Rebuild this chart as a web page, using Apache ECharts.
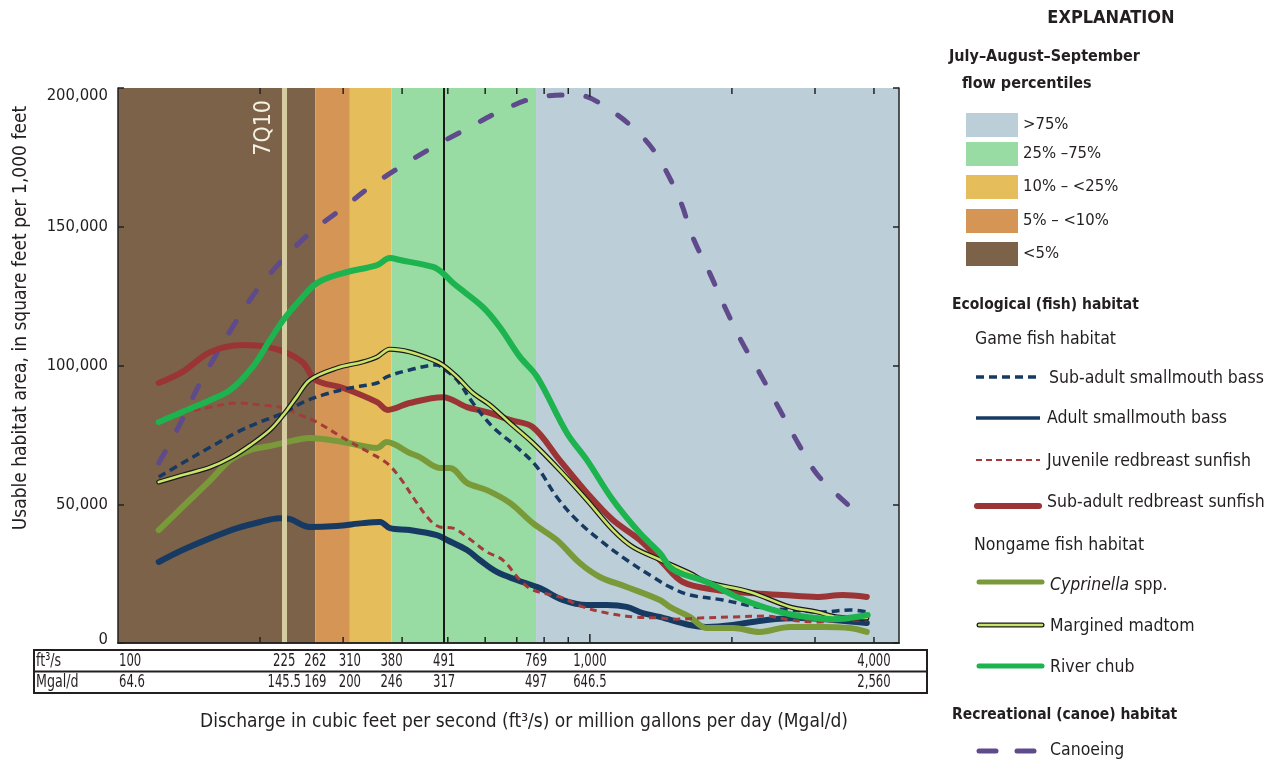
<!DOCTYPE html>
<html>
<head>
<meta charset="utf-8">
<script src="https://cdn.jsdelivr.net/npm/echarts@6/dist/echarts.min.js"></script>
<style>
  html, body { margin: 0; padding: 0; background: #ffffff; }
  #chart { width: 1279px; height: 763px; }
</style>
</head>
<body>
<div id="chart"></div>
<script>
// ---- Habitat curves: discharge (ft3/s) vs usable habitat area (ft2 per 1,000 ft) ----
const canoeQ   = [122, 134, 151, 159, 175, 197, 220, 255, 300, 342, 396, 465, 557, 654, 783, 938, 1119, 1294, 1407, 1552, 1652, 1795, 1932, 2099, 2259, 2527, 2760, 3041, 3590];
const canoeA   = [64900, 77500, 95500, 102000, 113900, 127200, 136900, 147700, 156800, 164300, 171500, 178700, 185900, 192100, 196800, 197500, 191400, 182300, 174100, 159600, 146300, 133300, 121100, 108500, 99100, 84000, 72100, 60500, 48600];

const chubQ    = [122, 140, 157, 173, 193, 210, 224, 243, 264, 300, 354, 377, 396, 465, 488, 513, 593, 644, 711, 773, 894, 986, 1119, 1276, 1407, 1477, 1552, 1770, 2048, 2371, 2786, 3273, 3880];
const chubA    = [79600, 84000, 87600, 91200, 99500, 109200, 116400, 123600, 129700, 133300, 136200, 138700, 138000, 135500, 133300, 129700, 121100, 113900, 103100, 95900, 75700, 65900, 51500, 39600, 32400, 27400, 25200, 22000, 16600, 12600, 9700, 8600, 10100];

const subRedQ  = [122, 137, 157, 184, 207, 228, 247, 262, 300, 354, 373, 415, 488, 549, 605, 677, 757, 863, 986, 1119, 1276, 1428, 1574, 1858, 2183, 2564, 3027, 3435, 3863];
const subRedA  = [93700, 97700, 104900, 107400, 106700, 104500, 100900, 94800, 91900, 86800, 84000, 86500, 88600, 85000, 83200, 80400, 77800, 65900, 54100, 44300, 37100, 28800, 22000, 19100, 18000, 17300, 16600, 17300, 16600];

const madtomQ  = [122, 137, 157, 173, 191, 210, 224, 239, 255, 291, 330, 354, 377, 415, 465, 488, 523, 565, 614, 677, 757, 863, 986, 1119, 1233, 1407, 1628, 1770, 2183, 2653, 3027, 3336, 3863];
const madtomA  = [58000, 60500, 63400, 66700, 71400, 76800, 82200, 88600, 94800, 99100, 101300, 103100, 105900, 104900, 102000, 100200, 95900, 90100, 85800, 79300, 72100, 62300, 51500, 40700, 34600, 30000, 25200, 22000, 18400, 13000, 11200, 9400, 9000];

const subBassQ = [122, 137, 157, 179, 200, 224, 247, 272, 310, 354, 371, 415, 474, 488, 523, 565, 623, 700, 773, 851, 938, 1050, 1197, 1360, 1477, 1628, 1913, 2259, 2653, 3117, 3556, 3863];
const subBassA = [59800, 64900, 70600, 76000, 79600, 82900, 86800, 89400, 91900, 93700, 95900, 98400, 100200, 99100, 94800, 86500, 77800, 70600, 63400, 52600, 44300, 37100, 29900, 23800, 20200, 17300, 15500, 13000, 11900, 11200, 11900, 11200];

const adultBassQ = [122, 137, 157, 179, 200, 220, 231, 255, 291, 330, 359, 377, 415, 474, 498, 549, 584, 635, 700, 783, 876, 986, 1087, 1197, 1294, 1407, 1628, 1770, 2010, 2371, 2786, 3273, 3863];
const adultBassA = [29200, 33500, 37800, 41400, 43600, 45000, 44700, 41800, 42200, 43200, 43600, 41400, 40700, 38900, 37100, 33500, 29900, 25600, 22700, 19800, 15500, 13700, 13700, 13000, 10800, 9400, 6500, 5800, 6500, 8300, 9000, 8300, 7200];

const juvRedQ  = [122, 137, 157, 179, 200, 224, 243, 264, 300, 342, 371, 396, 430, 458, 481, 513, 549, 605, 654, 711, 757, 863, 967, 1087, 1233, 1407, 1528, 1710, 2010, 2371, 2653, 3027, 3556, 3863];
const juvRedA  = [80400, 82900, 85000, 86500, 85800, 84700, 82200, 79600, 73900, 68500, 64900, 59500, 50500, 44300, 41800, 41400, 38200, 32800, 29900, 22700, 19100, 16600, 13000, 10800, 9400, 9000, 8600, 9000, 9400, 9700, 8300, 7600, 8300, 8300];

const cyprQ    = [122, 137, 157, 173, 191, 210, 224, 255, 300, 354, 371, 415, 436, 481, 505, 549, 605, 677, 757, 851, 952, 1050, 1197, 1407, 1477, 1628, 1770, 2010, 2291, 2653, 3117, 3556, 3863];
const cyprA    = [40700, 49000, 58700, 65900, 69600, 71000, 72100, 73900, 72400, 70300, 72400, 68500, 67000, 63100, 63100, 57700, 55100, 50500, 43200, 37100, 28800, 23800, 20200, 15500, 13000, 9400, 5400, 5400, 4000, 5800, 5800, 5400, 4000];

// ---- Flow-percentile bands (ft3/s) and reference flows ----
const bandEdges   = [100, 262, 310, 380, 769, 4520];
const sevenQ10    = 225;
const medianFlow  = 491;

// ---- Discharge table below the plot ----
const flowTicks   = [100, 225, 262, 310, 380, 491, 769, 1000, 4000];
const mgalLabels  = ['64.6', '145.5', '169', '200', '246', '317', '497', '646.5', '2,560'];
const minorTicks  = [200, 300, 400, 500, 600, 700, 800, 900, 1000, 2000, 3000, 4000];

const yTicksMax = 200000;

const FONT = '"Liberation Sans Narrow", "DejaVu Sans Condensed", "Roboto", sans-serif';
const INK = '#231f20';

const pairs = (q, a) => q.map((v, i) => [v, a[i]]);
const fmt = v => v.toLocaleString('en-US');

const bandColors = ['#7b6248', '#d59555', '#e5bd5b', '#98dba3', '#bccfd8'];

function curve(name, q, a, style, z) {
  return {
    name, type: 'line', data: pairs(q, a), smooth: 0.35, symbol: 'none',
    lineStyle: style, z: z || 3, silent: true, clip: true
  };
}

const chart = echarts.init(document.getElementById('chart'), null, { renderer: 'canvas' });

const option = {
  animation: false,
  backgroundColor: '#ffffff',
  textStyle: { fontFamily: FONT },
  grid: { left: 118, right: 380, top: 88, bottom: 120, containLabel: false },
  xAxis: [
    { type: 'log', logBase: 10, min: 100, max: 4520, position: 'bottom', z: 10,
      axisLine: { show: true, lineStyle: { color: '#222', width: 1.5 } },
      axisTick: { show: false }, axisLabel: { show: false }, splitLine: { show: false }, minorTick: { show: false } },
    { type: 'log', logBase: 10, min: 100, max: 4520, position: 'top', z: 10,
      axisLine: { show: true, lineStyle: { color: '#222', width: 1.5 } },
      axisTick: { show: false }, axisLabel: { show: false }, splitLine: { show: false } }
  ],
  yAxis: [
    { type: 'value', min: 0, max: yTicksMax, interval: 50000, position: 'left', z: 10,
      axisLine: { show: true, lineStyle: { color: '#222', width: 1.5 } },
      axisTick: { show: true, inside: true, length: 6, lineStyle: { color: '#222', width: 1.5 } },
      splitLine: { show: false },
      axisLabel: {
        margin: 10, color: INK, fontSize: 16.5, fontFamily: FONT,
        formatter: v => v === yTicksMax ? '{top|' + fmt(v) + '}' : (v === 0 ? '{bot|0}' : fmt(v)),
        rich: {
          top: { fontSize: 16.5, fontFamily: FONT, color: INK, padding: [16, 0, 0, 0] },
          bot: { fontSize: 16.5, fontFamily: FONT, color: INK, padding: [0, 0, 6, 0] }
        }
      } },
    { type: 'value', min: 0, max: yTicksMax, interval: 50000, position: 'right', z: 10,
      axisLine: { show: true, lineStyle: { color: '#222', width: 1.5 } },
      axisTick: { show: true, inside: true, length: 6, lineStyle: { color: '#222', width: 1.5 } },
      axisLabel: { show: false }, splitLine: { show: false } }
  ],
  series: [
    // percentile bands
    { name: 'bands', type: 'line', data: [], z: 1, silent: true,
      markArea: {
        silent: true,
        data: bandColors.map((c, i) => [
          { xAxis: bandEdges[i], itemStyle: { color: c, opacity: 1 } },
          { xAxis: bandEdges[i + 1] }
        ])
      } },
    curve('Canoeing', canoeQ, canoeA, { color: '#5f4a8b', width: 5, type: [13, 24], cap: 'round' }, 3),
    curve('Adult smallmouth bass', adultBassQ, adultBassA, { color: '#173a63', width: 6, cap: 'round', join: 'round' }, 3),
    curve('Cyprinella spp.', cyprQ, cyprA, { color: '#7a9a3a', width: 6, cap: 'round', join: 'round' }, 3),
    curve('Juvenile redbreast sunfish', juvRedQ, juvRedA, { color: '#a33b3b', width: 3, type: [7, 5] }, 4),
    curve('Sub-adult redbreast sunfish', subRedQ, subRedA, { color: '#9b3535', width: 6, cap: 'round', join: 'round' }, 4),
    curve('Sub-adult smallmouth bass', subBassQ, subBassA, { color: '#173a63', width: 3.5, type: [8, 5] }, 4),
    curve('Margined madtom outline', madtomQ, madtomA, { color: '#1a1a1a', width: 5, cap: 'round', join: 'round' }, 5),
    curve('Margined madtom', madtomQ, madtomA, { color: '#c9e46b', width: 2.6, cap: 'round', join: 'round' }, 6),
    curve('River chub', chubQ, chubA, { color: '#1db34f', width: 6, cap: 'round', join: 'round' }, 7),
    // reference flow lines
    { name: 'refs', type: 'line', data: [], z: 8, silent: true,
      markLine: {
        silent: true, symbol: ['none', 'none'], animation: false,
        data: [
          { xAxis: sevenQ10, lineStyle: { color: '#d6cca2', width: 5, type: 'solid' },
            label: { show: true, formatter: '7Q10', position: 'insideEndTop', distance: [12, 9],
                     color: '#f4f0e2', fontSize: 23, fontFamily: FONT } },
          { xAxis: medianFlow, lineStyle: { color: '#1a1a1a', width: 2, type: 'solid' },
            label: { show: false } }
        ]
      } },
    // minor discharge ticks on top and bottom edges
    { name: 'xticks', type: 'custom', z: 11, silent: true, clip: false,
      data: minorTicks.map(v => [v, 0]),
      renderItem: (params, api) => {
        const v = api.value(0);
        const b = api.coord([v, 0]);
        const t = api.coord([v, yTicksMax]);
        const len = v === 1000 ? 9 : 6;
        const st = { stroke: '#222', lineWidth: 1.5 };
        return { type: 'group', children: [
          { type: 'line', shape: { x1: b[0], y1: b[1], x2: b[0], y2: b[1] - len }, style: st },
          { type: 'line', shape: { x1: t[0], y1: t[1], x2: t[0], y2: t[1] + len }, style: st }
        ] };
      } },
    // discharge table labels placed on the discharge scale
    { name: 'table', type: 'custom', z: 11, silent: true, clip: false,
      data: flowTicks.map((q, i) => [q, 0, i]),
      renderItem: (params, api) => {
        const q = api.value(0);
        const i = api.value(2);
        const p = api.coord([q, 0]);
        const left = i === 0;
        const x = left ? p[0] + 1 : p[0];
        const common = { fill: INK, fontSize: 18, fontFamily: FONT, textAlign: left ? 'left' : 'center', textVerticalAlign: 'middle' };
        return { type: 'group', children: [
          { type: 'text', x: x, y: p[1] + 18, scaleX: 0.72, style: Object.assign({ text: fmt(q) }, common) },
          { type: 'text', x: x, y: p[1] + 39, scaleX: 0.72, style: Object.assign({ text: mgalLabels[i] }, common) }
        ] };
      } }
  ],
  graphic: []
};

// ---- table frame, axis titles and explanation ----
const g = [];
const txt = (x, y, text, o) => g.push(Object.assign({
  type: 'text', x, y, silent: true,
  style: Object.assign({ text, fill: INK, fontSize: 17.5, fontFamily: FONT, textVerticalAlign: 'middle' }, (o && o.style) || {})
}, o && o.props || {}));
const line = (x1, y1, x2, y2, st) => g.push({ type: 'line', silent: true, shape: { x1, y1, x2, y2 }, style: Object.assign({ stroke: INK, lineWidth: 2 }, st) });
const rect = (x, y, w, h, fill) => g.push({ type: 'rect', silent: true, shape: { x, y, width: w, height: h }, style: { fill } });

// table frame
line(33, 650, 927, 650);
line(33, 671.5, 927, 671.5);
line(33, 693, 927, 693);
line(34, 649, 34, 694);
line(927, 649, 927, 694);
txt(36, 661, 'ft³/s', { style: { fontSize: 18 }, props: { scaleX: 0.78 } });
txt(36, 682, 'Mgal/d', { style: { fontSize: 18 }, props: { scaleX: 0.78 } });

// axis titles
txt(524, 722, 'Discharge in cubic feet per second (ft³/s) or million gallons per day (Mgal/d)', { style: { fontSize: 19, textAlign: 'center' } });
g.push({ type: 'text', x: 21, y: 318, rotation: Math.PI / 2, silent: true,
  style: { text: 'Usable habitat area, in square feet per 1,000 feet', fill: INK, fontSize: 19, fontFamily: FONT, textAlign: 'center', textVerticalAlign: 'middle' } });

// explanation
const bold = { fontWeight: 'bold' };
txt(1111, 18, 'EXPLANATION', { style: Object.assign({ fontSize: 18, textAlign: 'center' }, bold) });
txt(949, 57, 'July–August–September', { style: Object.assign({ fontSize: 16 }, bold) });
txt(962, 84, 'flow percentiles', { style: Object.assign({ fontSize: 16 }, bold) });

const swatches = [
  ['>75%', bandColors[4], 113],
  ['25% –75%', bandColors[3], 142],
  ['10% – <25%', bandColors[2], 175],
  ['5% – <10%', bandColors[1], 209],
  ['<5%', bandColors[0], 242]
];
swatches.forEach(([label, c, y]) => {
  rect(966, y, 52, 24, c);
  txt(1023, y + 12, label, { style: { fontSize: 16.5 } });
});

txt(952, 305, 'Ecological (fish) habitat', { style: Object.assign({ fontSize: 15.5 }, bold) });
txt(975, 339, 'Game fish habitat');

line(976, 377, 1040, 377, { stroke: '#173a63', lineWidth: 3.5, lineDash: [8, 5] });
txt(1049, 378, 'Sub-adult smallmouth bass');
line(976, 418, 1040, 418, { stroke: '#173a63', lineWidth: 3.5 });
txt(1047, 418, 'Adult smallmouth bass');
line(976, 460, 1040, 460, { stroke: '#a33b3b', lineWidth: 2.2, lineDash: [6, 4] });
txt(1047, 461, 'Juvenile redbreast sunfish');
line(977, 506, 1039, 506, { stroke: '#9b3535', lineWidth: 6, lineCap: 'round' });
txt(1047, 502, 'Sub-adult redbreast sunfish');

txt(974, 545, 'Nongame fish habitat');

line(979, 582, 1042, 582, { stroke: '#7a9a3a', lineWidth: 5, lineCap: 'round' });
g.push({ type: 'text', x: 1050, y: 585, silent: true,
  style: { text: '{i|Cyprinella} spp.', fill: INK, fontSize: 17.5, fontFamily: FONT, textVerticalAlign: 'middle',
    rich: { i: { fontStyle: 'italic', fontSize: 17.5, fontFamily: FONT, fill: INK } } } });
line(979, 625, 1042, 625, { stroke: '#1a1a1a', lineWidth: 5, lineCap: 'round' });
line(979, 625, 1042, 625, { stroke: '#c9e46b', lineWidth: 2.4, lineCap: 'round' });
txt(1050, 626, 'Margined madtom');
line(979, 666, 1042, 666, { stroke: '#1db34f', lineWidth: 5, lineCap: 'round' });
txt(1050, 667, 'River chub');

txt(952, 715, 'Recreational (canoe) habitat', { style: Object.assign({ fontSize: 15.5 }, bold) });
line(979, 751, 996, 751, { stroke: '#5f4a8b', lineWidth: 5, lineCap: 'round' });
line(1017, 751, 1034, 751, { stroke: '#5f4a8b', lineWidth: 5, lineCap: 'round' });
txt(1050, 750, 'Canoeing');

option.graphic = g;
chart.setOption(option);
</script>
</body>
</html>
